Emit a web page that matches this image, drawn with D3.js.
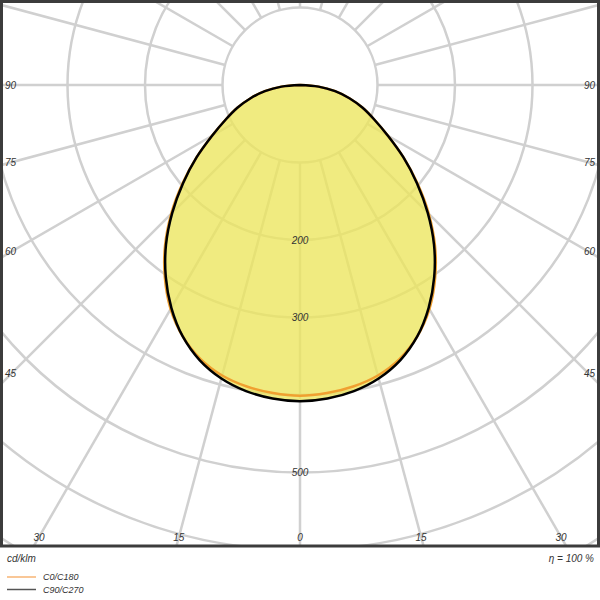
<!DOCTYPE html>
<html>
<head>
<meta charset="utf-8">
<script src="https://cdn.jsdelivr.net/npm/d3@7"></script>
<style>
  body { margin: 0; background: #fff; }
  text { font-family: "Liberation Sans", Arial, sans-serif; font-style: italic; fill: #333; }
</style>
</head>
<body>
<svg width="600" height="600"></svg>
<script>
// gamma angles (deg from nadir) and intensities in cd/klm
const gammas = [0, 5, 10, 15, 20, 25, 30, 35, 40, 45, 50, 55, 60, 65, 70, 75, 80, 85, 90];
const c0c180 = [401, 399, 395, 388, 376, 358, 334, 304, 271, 235, 198, 163, 131, 106, 86, 66, 46, 24, 0];
const c90c270 = [408, 406, 401, 392, 378, 358, 332, 302, 269, 233, 197, 163, 131, 106, 86, 66, 46, 24, 0];
const rings = [100, 200, 300, 400, 500, 600, 700];
const ringLabels = [200, 300, 500];
const bottomAngles = [-30, -15, 0, 15, 30];
const sideAngles = [45, 60, 75, 90];

const width = 600, height = 600;
const cx = 300, cy = 85;
const frameBottom = 546;

let svg = d3.select('svg');

let r = d3.scaleLinear().domain([0, 100]).range([0, 77.5]);

svg.append("defs").append("clipPath").attr("id", "frame")
    .append("rect").attr("x", 0).attr("y", 0).attr("width", width).attr("height", frameBottom);

let g = svg.append("g").attr("clip-path", "url(#frame)");
let polar = g.append("g").attr("transform", `translate(${cx},${cy})`);

// grid rings
polar.selectAll("circle.ring")
    .data(rings)
    .enter().append("circle")
    .attr("class", "ring")
    .attr("r", d => r(d))
    .attr("fill", "none")
    .attr("stroke", "#d0d0d0")
    .attr("stroke-width", 2.5);

// radial spokes every 15 deg, starting from the first ring
const spokes = d3.range(0, 360, 15);
polar.selectAll("line.spoke")
    .data(spokes)
    .enter().append("line")
    .attr("class", "spoke")
    .attr("x1", d => r(100) * Math.sin(d * Math.PI / 180))
    .attr("y1", d => r(100) * Math.cos(d * Math.PI / 180))
    .attr("x2", d => r(1000) * Math.sin(d * Math.PI / 180))
    .attr("y2", d => r(1000) * Math.cos(d * Math.PI / 180))
    .attr("stroke", "#d0d0d0")
    .attr("stroke-width", 2.5);

// full curve: left side (gamma 90 -> 0) then right side (0 -> 90)
function curvePoints(vals) {
    let left = gammas.map((gm, i) => ({ a: Math.PI + gm * Math.PI / 180, v: vals[i] })).reverse();
    let right = gammas.slice(1).map((gm, i) => ({ a: Math.PI - gm * Math.PI / 180, v: vals[i + 1] }));
    return left.concat(right);
}

let line = d3.lineRadial()
    .angle(d => d.a)
    .radius(d => r(d.v))
    .curve(d3.curveCatmullRom);

polar.append("path")
    .datum(curvePoints(c90c270))
    .attr("d", line)
    .attr("fill", "#ece55c")
    .attr("fill-opacity", 0.78)
    .attr("stroke", "none");

polar.append("path")
    .datum(curvePoints(c0c180))
    .attr("d", line)
    .attr("fill", "none")
    .attr("stroke", "#f0a030")
    .attr("stroke-width", 2.5);

polar.append("path")
    .datum(curvePoints(c90c270))
    .attr("d", line)
    .attr("fill", "none")
    .attr("stroke", "#000")
    .attr("stroke-width", 2.5);

// intensity labels on the nadir axis
polar.selectAll("text.ilab")
    .data(ringLabels)
    .enter().append("text")
    .attr("class", "ilab")
    .attr("x", 0)
    .attr("y", d => r(d))
    .attr("dy", "0.35em")
    .attr("text-anchor", "middle")
    .attr("font-size", 10)
    .text(d => d);

// angle labels along bottom edge
const labelY = 537;
g.selectAll("text.blab")
    .data(bottomAngles)
    .enter().append("text")
    .attr("class", "blab")
    .attr("x", d => cx + (labelY - cy) * Math.tan(d * Math.PI / 180))
    .attr("y", labelY)
    .attr("dy", "0.35em")
    .attr("text-anchor", "middle")
    .attr("font-size", 10)
    .text(d => Math.abs(d));

// angle labels along both sides
const sideDx = 288;
[-1, 1].forEach(side => {
    g.selectAll("text.slab" + side)
        .data(sideAngles)
        .enter().append("text")
        .attr("x", side < 0 ? 5 : 595)
        .attr("y", d => d === 90 ? cy : cy + sideDx / Math.tan(d * Math.PI / 180))
        .attr("dy", "0.35em")
        .attr("text-anchor", side < 0 ? "start" : "end")
        .attr("font-size", 10)
        .text(d => d);
});

// frame
svg.append("rect")
    .attr("x", 1.5).attr("y", 1.5)
    .attr("width", width - 3).attr("height", frameBottom - 1.5)
    .attr("fill", "none")
    .attr("stroke", "#3c3c3c")
    .attr("stroke-width", 3);

svg.append("text").attr("x", 7).attr("y", 562).attr("font-size", 10).text("cd/klm");
svg.append("text").attr("x", 594).attr("y", 562).attr("text-anchor", "end").attr("font-size", 10).text("η = 100 %");

// legend
const legend = [
    { name: "C0/C180", color: "#f7b574" },
    { name: "C90/C270", color: "#555" }
];
let lg = svg.selectAll("g.legend")
    .data(legend)
    .enter().append("g")
    .attr("transform", (d, i) => `translate(7,${577 + i * 12.5})`);
lg.append("line").attr("x1", 0).attr("x2", 29).attr("stroke", d => d.color).attr("stroke-width", 1.5);
lg.append("text").attr("x", 36).attr("dy", "0.35em").attr("font-size", 9).text(d => d.name);
</script>
</body>
</html>
